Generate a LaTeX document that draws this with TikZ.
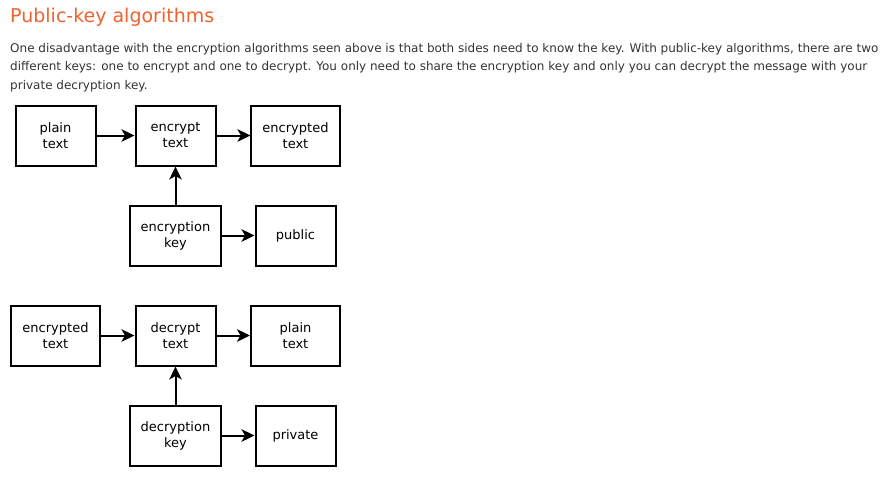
\documentclass[tikz,border=0pt]{standalone}
\usepackage{fontspec}
\setmainfont{DejaVu Sans}
\usepackage{xcolor}
\usetikzlibrary{positioning, arrows.meta}
\definecolor{titleorange}{RGB}{240,98,45}
\definecolor{bodygray}{RGB}{51,51,51}

\tikzset{
  block/.style={draw, line width=2pt, minimum width=80pt, minimum height=60pt, inner xsep=11pt, align=center, font=\fontsize{13}{16}\selectfont},
  flow/.style={line width=2pt, -{Stealth[length=13pt, width=12.5pt, inset=3.5pt]}},
  para/.style={anchor=base west, inner sep=0pt, text=bodygray, font=\fontsize{12}{18}\selectfont}
}

\begin{document}
\begin{tikzpicture}[x=1pt, y=-1pt, node distance=100pt and 120pt, on grid]
\useasboundingbox (0,0) rectangle (896,485);
\node[para, text=titleorange, font=\fontsize{19}{22}\selectfont] (title) at (10,22) {Public-key algorithms};
\node[para] (line1) at (10,52) {One disadvantage with the encryption algorithms seen above is that both sides need to know the key. With public-key algorithms, there are two};
\node[para] (line2) at (10,70.5) {different keys: one to encrypt and one to decrypt. You only need to share the encryption key and only you can decrypt the message with your};
\node[para] (line3) at (10,89) {private decryption key.};

% encryption
\node[block] (plain) at (55.5,135.5) {plain\\text};
\node[block, right=of plain] (encrypt) {encrypt\\text};
\node[block, right=of encrypt] (encrypted) {encrypted\\text};
\node[block, below=of encrypt] (enckey) {encryption\\key};
\node[block, right=of enckey] (public) {public};

% decryption
\node[block] (cipher) at (55.5,335.5) {encrypted\\text};
\node[block, right=of cipher] (decrypt) {decrypt\\text};
\node[block, right=of decrypt, minimum width=89pt] (plainout) {plain\\text};
\node[block, below=of decrypt] (deckey) {decryption\\key};
\node[block, right=of deckey] (private) {private};

\draw[flow] (plain) -- (encrypt);
\draw[flow] (encrypt) -- (encrypted);
\draw[flow] (enckey) -- (encrypt);
\draw[flow] (enckey) -- (public);
\draw[flow] (cipher) -- (decrypt);
\draw[flow] (decrypt) -- (plainout);
\draw[flow] (deckey) -- (decrypt);
\draw[flow] (deckey) -- (private);
\end{tikzpicture}
\end{document}
